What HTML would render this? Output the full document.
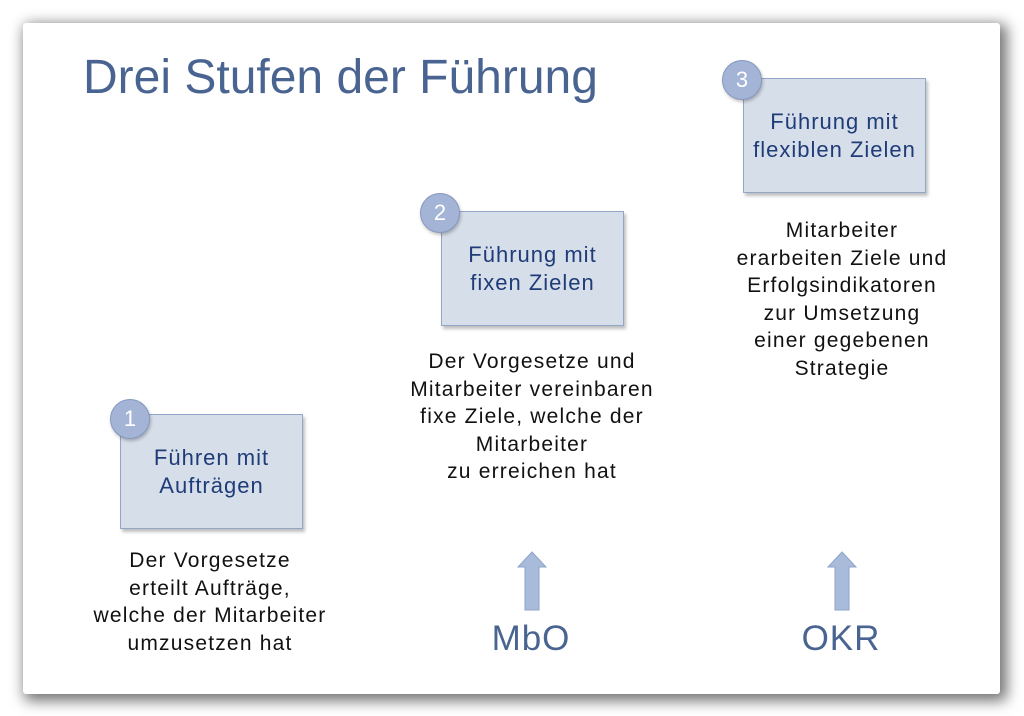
<!DOCTYPE html>
<html><head><meta charset="utf-8"><style>
body{margin:0;width:1024px;height:716px;background:#fff;position:relative;overflow:hidden;font-family:"Liberation Sans","DejaVu Sans",sans-serif}
.card{position:absolute;left:23px;top:23px;width:977px;height:671px;background:#fff;box-shadow:4px 4px 14px 3px rgba(0,0,0,.55);border-radius:3px}
.t{position:absolute;left:83px;top:50px;font-size:48px;color:#4a6491;white-space:nowrap}
.box{position:absolute;width:181px;height:113px;background:#d6deea;border:1px solid #93a6c8;box-shadow:2px 3px 3px rgba(0,0,0,.25);display:flex;align-items:center;justify-content:center;text-align:center;color:#1f3c78;font-size:22px;line-height:28px;letter-spacing:1px}
.c{position:absolute;width:38px;height:38px;border-radius:50%;background:#a3b4d6;border:1px solid #8598bf;color:#fff;font-size:22px;text-align:center;line-height:38px;box-shadow:1px 2px 3px rgba(0,0,0,.25)}
.d{position:absolute;text-align:center;font-size:21px;line-height:27.5px;color:#111;width:340px;letter-spacing:1.2px}
.lab{position:absolute;font-size:35px;color:#4a6491;width:200px;text-align:center;letter-spacing:1px}
svg{position:absolute}
</style></head><body>
<div class="card"></div>
<div class="t">Drei Stufen der Führung</div>

<div class="box" style="left:120px;top:414px">Führen mit<br>Aufträgen</div>
<div class="c" style="left:110px;top:399px">1</div>
<div class="d" style="left:40px;top:547px">Der Vorgesetze<br>erteilt Aufträge,<br>welche der Mitarbeiter<br>umzusetzen hat</div>

<div class="box" style="left:441px;top:211px">Führung mit<br>fixen Zielen</div>
<div class="c" style="left:420px;top:193px">2</div>
<div class="d" style="left:362px;top:348px">Der Vorgesetze und<br>Mitarbeiter vereinbaren<br>fixe Ziele, welche der<br>Mitarbeiter<br>zu erreichen hat</div>

<div class="box" style="left:743px;top:78px">Führung mit<br>flexiblen Zielen</div>
<div class="c" style="left:722px;top:60px">3</div>
<div class="d" style="left:672px;top:217px">Mitarbeiter<br>erarbeiten Ziele und<br>Erfolgsindikatoren<br>zur Umsetzung<br>einer gegebenen<br>Strategie</div>

<svg style="left:515px;top:550px" width="34" height="64"><polygon points="17,2 31,17 24,17 24,60 10,60 10,17 3,17" fill="#a9bbdb" stroke="#8ea3c9" stroke-width="1"/></svg>
<div class="lab" style="left:431px;top:619px">MbO</div>
<svg style="left:825px;top:550px" width="34" height="64"><polygon points="17,2 31,17 24,17 24,60 10,60 10,17 3,17" fill="#a9bbdb" stroke="#8ea3c9" stroke-width="1"/></svg>
<div class="lab" style="left:741px;top:619px">OKR</div>
</body></html>
